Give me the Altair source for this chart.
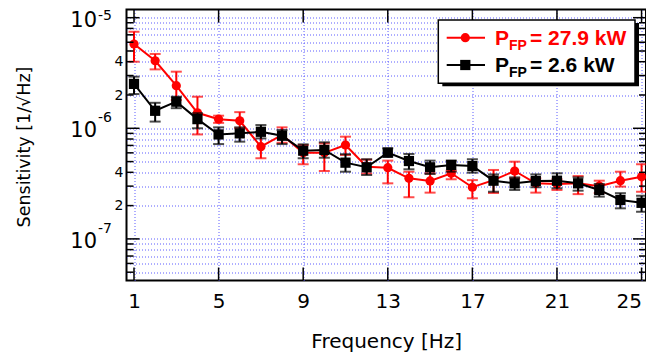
import altair as alt
import pandas as pd

FONT = "DejaVu Sans"
LFONT = "Liberation Sans"
GRID = "#5c5cff"
RED = "#ff0000"

freq = list(range(1, 26))

red_val = [5.78e-6, 4.08e-6, 2.43e-6, 1.38e-6, 1.21e-6, 1.17e-6, 6.82e-7, 8.7e-7, 6.0e-7, 6.0e-7,
           7.06e-7, 4.5e-7, 4.4e-7, 3.53e-7, 3.34e-7, 3.92e-7, 2.93e-7, 3.4e-7, 4.11e-7, 3.18e-7,
           3.14e-7, 3.18e-7, 3.0e-7, 3.36e-7, 3.65e-7]
red_hi = [7.46e-6, 4.7e-6, 3.25e-6, 1.93e-6, 1.30e-6, 1.40e-6, 9.0e-7, 1.02e-6, 7.05e-7, 7.3e-7,
          8.4e-7, 5.2e-7, 5.1e-7, 4.05e-7, 3.92e-7, 4.14e-7, 3.4e-7, 4.2e-7, 4.99e-7, 3.53e-7,
          3.46e-7, 3.7e-7, 3.36e-7, 4.05e-7, 4.73e-7]
red_lo = [4.0e-6, 3.41e-6, 1.80e-6, 8.8e-7, 1.12e-6, 1.0e-6, 5.36e-7, 7.4e-7, 4.73e-7, 4.11e-7,
          5.74e-7, 3.9e-7, 3.18e-7, 2.38e-7, 2.62e-7, 3.46e-7, 2.33e-7, 2.6e-7, 3.53e-7, 2.62e-7,
          2.77e-7, 2.54e-7, 2.6e-7, 2.97e-7, 2.67e-7]

black_val = [2.52e-6, 1.44e-6, 1.74e-6, 1.21e-6, 8.8e-7, 9.0e-7, 9.3e-7, 8.57e-7, 6.28e-7, 6.37e-7,
             4.89e-7, 4.44e-7, 6.02e-7, 5.06e-7, 4.44e-7, 4.66e-7, 4.56e-7, 3.36e-7, 3.18e-7, 3.34e-7,
             3.36e-7, 3.18e-7, 2.77e-7, 2.25e-7, 2.12e-7]
black_hi = [2.93e-6, 1.70e-6, 1.93e-6, 1.37e-6, 1.02e-6, 1.02e-6, 1.07e-6, 9.65e-7, 7.16e-7, 7.47e-7,
            5.83e-7, 5.25e-7, 6.59e-7, 5.86e-7, 5.1e-7, 5.1e-7, 5.25e-7, 3.83e-7, 3.6e-7, 3.83e-7,
            3.92e-7, 3.6e-7, 3.14e-7, 2.59e-7, 2.45e-7]
black_lo = [2.04e-6, 1.15e-6, 1.52e-6, 1.0e-6, 7.2e-7, 7.57e-7, 8.1e-7, 7.2e-7, 5.36e-7, 5.42e-7,
            4.05e-7, 3.78e-7, 5.55e-7, 4.26e-7, 3.86e-7, 4.05e-7, 3.97e-7, 2.67e-7, 2.77e-7, 2.93e-7,
            2.87e-7, 2.73e-7, 2.41e-7, 1.89e-7, 1.76e-7]

x_ticks = [1, 5, 9, 13, 17, 21, 25]
y_major = [1e-7, 1e-6]
y_major_exp = ["-7", "-6"]
y_top = [1e-5]
y_top_exp = ["-5"]
y_minor = [5e-8, 6e-8, 7e-8, 8e-8, 9e-8,
           2e-7, 3e-7, 4e-7, 5e-7, 6e-7, 7e-7, 8e-7, 9e-7,
           2e-6, 3e-6, 4e-6, 5e-6, 6e-6, 7e-6, 8e-6, 9e-6]
y_grid = sorted(y_major + y_top + y_minor)

legend_red = ["P", "FP", "= 27.9 kW"]
legend_black = ["P", "FP", "= 2.6 kW"]

W, H = 519.5, 271

xscale = alt.Scale(domain=[0.645, 25.21], nice=False, zero=False)
yscale = alt.Scale(type="log", domain=[4.206e-8, 1.186e-5], nice=False)

df_red = pd.DataFrame({"f": freq, "v": red_val, "hi": red_hi, "lo": red_lo})
df_blk = pd.DataFrame({"f": freq, "v": black_val, "hi": black_hi, "lo": black_lo})

xaxis = alt.Axis(values=x_ticks, grid=True, gridColor=GRID, gridDash=[1, 2], gridWidth=1,
                 ticks=False, tickSize=0, domain=False, labelFont=FONT, labelFontSize=20,
                 labelColor="black", labelPadding=11, labelFlush=6, labelFlushOffset=0,
                 title="Frequency [Hz]", titleFont=FONT, titleFontSize=20,
                 titleFontWeight="normal", titleColor="black", titleBaseline="alphabetic",
                 titleY=66.5)
mant = "round(datum.value / pow(10, floor(log(datum.value) / LN10 + 1e-9)))"
label_expr = f"({mant} == 2 || {mant} == 4) ? '' + {mant} : ''"
yaxis = alt.Axis(values=y_grid, grid=True, gridColor=GRID, gridDash=[1, 2], gridWidth=1,
                 ticks=False, tickSize=0, domain=False, labelFont=FONT, labelFontSize=14,
                 labelColor="black", labelPadding=3.5, labelExpr=label_expr, labelOverlap=False,
                 labelFlush=False,
                 title="Sensitivity [1/√Hz]", titleFont=FONT, titleFontSize=17.5,
                 titleFontWeight="normal", titleColor="black", titleBaseline="alphabetic",
                 titleX=-97.5, titleY=137, titleAngle=270)


def X(field="f"):
    return alt.X(f"{field}:Q", scale=xscale, axis=xaxis)


def Y(field="v"):
    return alt.Y(f"{field}:Q", scale=yscale, axis=yaxis)


layers = []
layers.append(alt.Chart(df_red).mark_line(color=RED, strokeWidth=2).encode(x=X(), y=Y()))


def series(df, color, shape, size):
    out = []
    out.append(alt.Chart(df).mark_rule(color=color, strokeWidth=2).encode(x=X(), y=Y("lo"), y2="hi:Q"))
    out.append(alt.Chart(df).mark_tick(color=color, orient="horizontal", size=11, thickness=2).encode(x=X(), y=Y("hi")))
    out.append(alt.Chart(df).mark_tick(color=color, orient="horizontal", size=11, thickness=2).encode(x=X(), y=Y("lo")))
    out.append(alt.Chart(df).mark_point(shape=shape, filled=True, size=size, color=color, opacity=1).encode(x=X(), y=Y()))
    return out


layers += series(df_red, RED, "circle", 85)
layers.append(alt.Chart(df_blk).mark_line(color="black", strokeWidth=2).encode(x=X(), y=Y()))
layers += series(df_blk, "black", "square", 105)

# inward ticks
df_ymaj = pd.DataFrame({"v": y_major + y_top, "e": y_major_exp + y_top_exp})
df_ymin = pd.DataFrame({"v": y_minor})
df_xt = pd.DataFrame({"f": x_ticks})
TW = 1.5
layers.append(alt.Chart(df_ymaj).mark_rule(color="black", strokeWidth=TW).encode(y=Y(), x=alt.value(0), x2=alt.value(13)))
layers.append(alt.Chart(df_ymin).mark_rule(color="black", strokeWidth=TW).encode(y=Y(), x=alt.value(0), x2=alt.value(7)))
layers.append(alt.Chart(df_ymaj).mark_rule(color="black", strokeWidth=TW).encode(y=Y(), x=alt.value(W), x2=alt.value(W - 13)))
layers.append(alt.Chart(df_ymin).mark_rule(color="black", strokeWidth=TW).encode(y=Y(), x=alt.value(W), x2=alt.value(W - 7)))
layers.append(alt.Chart(df_xt).mark_rule(color="black", strokeWidth=TW).encode(x=X(), y=alt.value(H), y2=alt.value(H - 13)))
layers.append(alt.Chart(df_xt).mark_rule(color="black", strokeWidth=TW).encode(x=X(), y=alt.value(0), y2=alt.value(13)))

# decade labels with exponents
layers.append(alt.Chart(df_ymaj).mark_text(text="10", align="right", baseline="middle", font=FONT,
                                           fontSize=21, dy=3, color="black").encode(y=Y(), x=alt.value(-29.5)))
df_emid = pd.DataFrame({"v": y_major, "e": y_major_exp})
df_etop = pd.DataFrame({"v": y_top, "e": y_top_exp})
layers.append(alt.Chart(df_emid).mark_text(align="left", baseline="middle", font=FONT,
                                           fontSize=14, dy=-10, color="black").encode(text="e:N", y=Y(), x=alt.value(-28.5)))
layers.append(alt.Chart(df_etop).mark_text(align="left", baseline="middle", font=FONT,
                                           fontSize=14, dy=-1.5, color="black").encode(text="e:N", y=Y(), x=alt.value(-28.5)))

# legend
one = alt.Data(values=[{"a": 1}])
layers.append(alt.Chart(one).mark_rect(color="black").encode(
    x=alt.value(315.8), x2=alt.value(512.5), y=alt.value(13.5), y2=alt.value(76.8)))
layers.append(alt.Chart(one).mark_rect(fill="white", stroke="black", strokeWidth=1.5).encode(
    x=alt.value(311.8), x2=alt.value(508.5), y=alt.value(10.5), y2=alt.value(73.8)))

for row, (txts, color, shape, size) in enumerate([(legend_red, RED, "circle", 85),
                                                  (legend_black, "black", "square", 105)]):
    yc = 28.2 if row == 0 else 55.5
    yb = 35.5 if row == 0 else 62.2
    layers.append(alt.Chart(one).mark_rule(color=color, strokeWidth=2).encode(
        x=alt.value(320.2), x2=alt.value(358.5), y=alt.value(yc)))
    layers.append(alt.Chart(one).mark_point(shape=shape, filled=True, size=size, color=color, opacity=1).encode(
        x=alt.value(338.8), y=alt.value(yc)))
    df_t = pd.DataFrame({"t": txts})
    layers.append(alt.Chart(df_t).transform_filter(alt.datum.t == txts[0]).mark_text(
        align="left", baseline="alphabetic", font=LFONT, fontWeight="bold", fontSize=21, color=color).encode(
        text="t:N", x=alt.value(368.5), y=alt.value(yb)))
    layers.append(alt.Chart(df_t).transform_filter(alt.datum.t == txts[1]).mark_text(
        align="left", baseline="alphabetic", font=LFONT, fontWeight="bold", fontSize=14, color=color).encode(
        text="t:N", x=alt.value(382.5), y=alt.value(yb + 5)))
    layers.append(alt.Chart(df_t).transform_filter(alt.datum.t == txts[2]).mark_text(
        align="left", baseline="alphabetic", font=LFONT, fontWeight="bold", fontSize=21, color=color).encode(
        text="t:N", x=alt.value(403.5), y=alt.value(yb)))

chart = alt.layer(*layers).properties(
    width=W, height=H,
    autosize=alt.AutoSizeParams(type="none"),
    padding={"left": 118.5, "top": 1.5, "right": 0, "bottom": 72.5},
    background="white",
).configure_view(stroke="black", strokeWidth=2)

chart.save("out.html", embed_options={"renderer": "svg", "actions": False})
